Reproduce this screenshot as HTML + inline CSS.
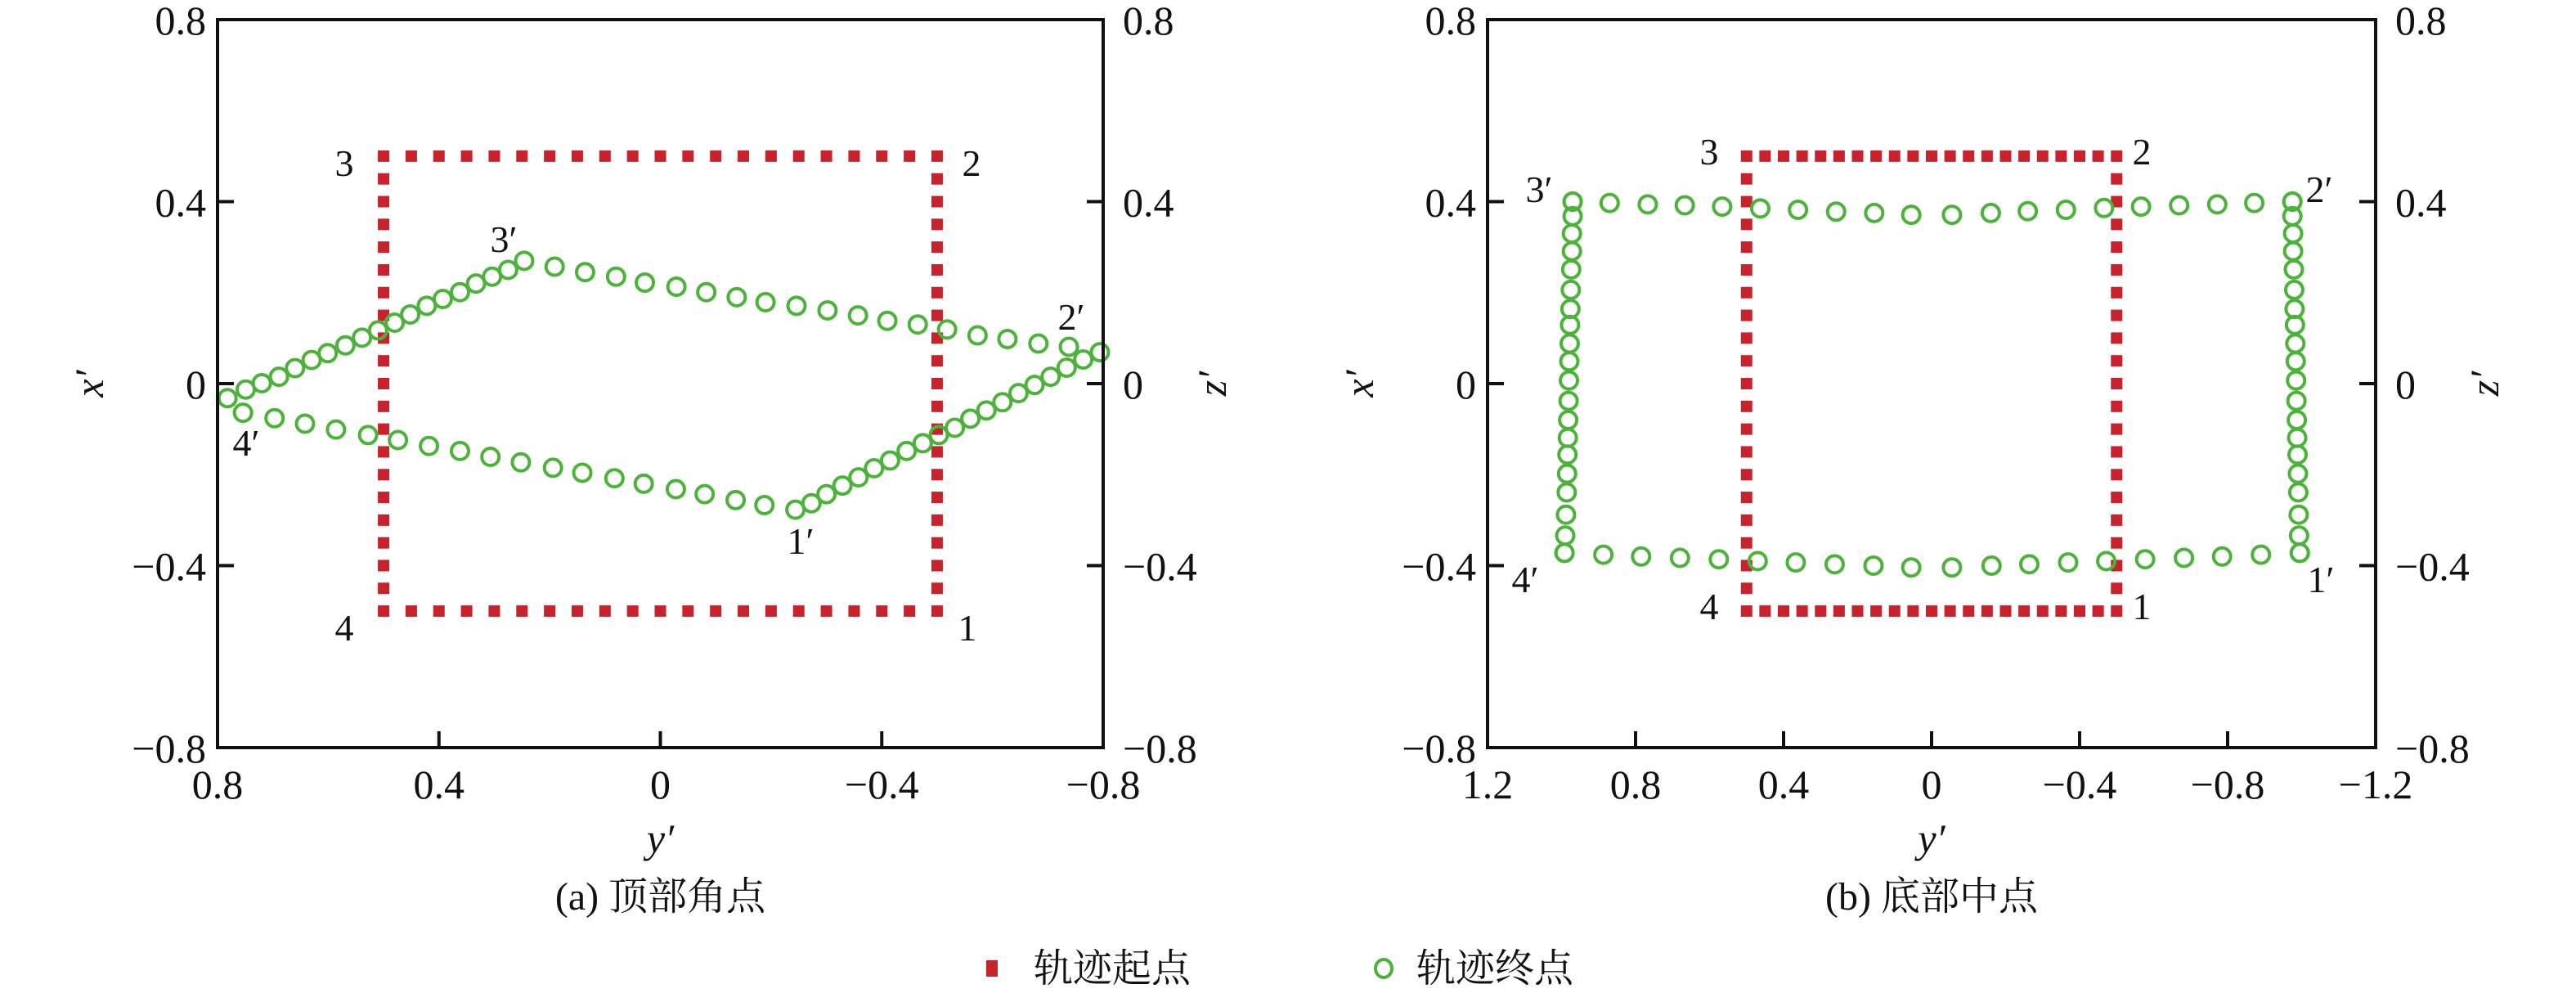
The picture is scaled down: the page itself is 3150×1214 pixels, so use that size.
<!DOCTYPE html>
<html><head><meta charset="utf-8">
<style>
html,body{margin:0;padding:0;background:#fff;}
svg{display:block;}
text{font-family:"Liberation Serif","Noto Serif CJK SC","Noto Sans CJK SC",serif;fill:#111;}
</style></head>
<body>
<svg id="fig" width="3150" height="1214" viewBox="0 0 3150 1214" xmlns="http://www.w3.org/2000/svg">
<g id="plotA"></g>
<g id="plotB"></g>
<g>
  <rect x="1206" y="1174" width="14" height="20" fill="#c8232c"/>
  <text x="1264" y="1200" font-size="48">轨迹起点</text>
  <ellipse cx="1692" cy="1184" rx="10" ry="11" fill="none" stroke="#4cb33a" stroke-width="4"/>
  <text x="1732" y="1200" font-size="48">轨迹终点</text>
</g>
</svg>
<script>
// ---- Data: plot (a) trajectory end points [y', x'] ----
const aYUpper = [0.782,0.749,0.720,0.689,0.660,0.630,0.601,0.569,0.539,0.510,0.480,0.452,0.422,0.393,0.362,0.333,0.304,0.275,0.246,0.191,0.136,0.080,0.028,-0.029,-0.083,-0.138,-0.190,-0.246,-0.302,-0.357,-0.410,-0.465,-0.518,-0.573,-0.627,-0.683,-0.738];
const aXUpper = [-0.032,-0.013,0.001,0.015,0.034,0.052,0.067,0.084,0.101,0.117,0.134,0.152,0.171,0.186,0.201,0.220,0.235,0.250,0.270,0.257,0.245,0.235,0.222,0.213,0.201,0.190,0.179,0.171,0.161,0.150,0.138,0.130,0.119,0.106,0.098,0.088,0.081];
const aYLower = [0.754,0.697,0.642,0.586,0.528,0.474,0.418,0.362,0.307,0.252,0.194,0.141,0.083,0.030,-0.028,-0.080,-0.136,-0.188,-0.244,-0.273,-0.300,-0.329,-0.358,-0.386,-0.415,-0.445,-0.474,-0.503,-0.532,-0.560,-0.589,-0.618,-0.647,-0.676,-0.705,-0.734,-0.764,-0.794];
const aXLower = [-0.064,-0.076,-0.088,-0.101,-0.113,-0.124,-0.137,-0.148,-0.161,-0.173,-0.185,-0.196,-0.208,-0.220,-0.232,-0.243,-0.256,-0.267,-0.277,-0.263,-0.243,-0.224,-0.206,-0.186,-0.169,-0.148,-0.131,-0.113,-0.097,-0.077,-0.059,-0.041,-0.021,-0.003,0.015,0.035,0.053,0.069];
// ---- Data: plot (b) trajectory end points ----
const bYTop = [0.970,0.870,0.767,0.667,0.566,0.463,0.361,0.258,0.155,0.055,-0.055,-0.160,-0.260,-0.363,-0.466,-0.566,-0.669,-0.772,-0.872,-0.975];
const bXTop = [0.400,0.397,0.394,0.392,0.389,0.385,0.382,0.378,0.375,0.371,0.371,0.375,0.379,0.382,0.386,0.389,0.392,0.394,0.397,0.400];
const bYBottom = [0.992,0.887,0.785,0.680,0.575,0.470,0.367,0.262,0.157,0.055,-0.055,-0.162,-0.264,-0.369,-0.472,-0.577,-0.682,-0.785,-0.890,-0.995];
const bXBottom = [-0.372,-0.376,-0.380,-0.383,-0.386,-0.390,-0.393,-0.397,-0.400,-0.404,-0.404,-0.400,-0.397,-0.393,-0.390,-0.386,-0.383,-0.380,-0.376,-0.372];
const bXSide = [0.400,0.368,0.330,0.291,0.251,0.206,0.164,0.129,0.088,0.049,0.007,-0.038,-0.080,-0.119,-0.156,-0.198,-0.239,-0.288,-0.334,-0.372];
const bYLeftSide = [0.970,0.970,0.972,0.972,0.974,0.975,0.976,0.977,0.978,0.979,0.980,0.981,0.982,0.983,0.984,0.985,0.986,0.988,0.990,0.992];
const bYRightSide = [-0.975,-0.975,-0.977,-0.977,-0.979,-0.980,-0.981,-0.982,-0.983,-0.984,-0.985,-0.986,-0.987,-0.988,-0.989,-0.990,-0.991,-0.992,-0.993,-0.995];
// ---- Start square (half side) and step ----
const startHalf = 0.5;
const startStep = 0.05;
// ---- Ticks ----
const aXTicks = [0.8,0.4,0,-0.4,-0.8];
const bXTicks = [1.2,0.8,0.4,0,-0.4,-0.8,-1.2];
const yTicks = [0.8,0.4,0,-0.4,-0.8];

const NS = "http://www.w3.org/2000/svg";
function mk(parent, tag, attrs){const e=document.createElementNS(NS,tag);for(const k in attrs)e.setAttribute(k,attrs[k]);parent.appendChild(e);return e;}
function fmt(v){if(v===0)return "0";return (v<0?"\u2212":"")+Math.abs(v).toString();}

function drawPlot(g, L, R, yMax, xTicks, sets, labels, caption){
  const T=24, B=914;
  const sx = v => L + (yMax - v)/(2*yMax)*(R-L);
  const sy = v => T + (0.8 - v)/1.6*(B-T);
  const sq = [];
  const n = Math.round(2*startHalf/startStep);
  for(let i=0;i<=n;i++){const t=-startHalf+i*startStep; sq.push([t,startHalf],[t,-startHalf]); if(i>0&&i<n){sq.push([startHalf,t],[-startHalf,t]);}}
  sq.forEach(p=>{
    const r=mk(g,'rect',{x:sx(p[0])-7,y:sy(p[1])-7,width:14,height:14,fill:'#c8232c'});
    
    
  });
  sets.forEach(s=>{
    for(let i=0;i<s[0].length;i++){
      const c=mk(g,'circle',{cx:sx(s[0][i]),cy:sy(s[1][i]),r:10.5,fill:'none',stroke:'#4cb33a','stroke-width':4});
      
      
    }
  });
  const f=mk(g,'rect',{x:L,y:T,width:R-L,height:B-T,fill:'none',stroke:'#111','stroke-width':4});
  
  
  yTicks.forEach(v=>{
    const y=sy(v);
    if(v!==0.8&&v!==-0.8){mk(g,'line',{x1:L,x2:L+20,y1:y,y2:y,stroke:'#111','stroke-width':4});mk(g,'line',{x1:R,x2:R-20,y1:y,y2:y,stroke:'#111','stroke-width':4});}
    const tl=mk(g,'text',{x:L-14,y:y+18,'font-size':50,'text-anchor':'end'});tl.textContent=fmt(v);
    
    
    const tr=mk(g,'text',{x:R+24,y:y+18,'font-size':50,'text-anchor':'start'});tr.textContent=fmt(v);
    
    
  });
  xTicks.forEach((v,i)=>{
    const x=sx(v);
    if(i>0&&i<xTicks.length-1)mk(g,'line',{x1:x,x2:x,y1:B,y2:B-20,stroke:'#111','stroke-width':4});
    const t=mk(g,'text',{x:x,y:976,'font-size':50,'text-anchor':'middle'});t.textContent=fmt(v);
    
    
  });
  labels.forEach(l=>{
    const t=mk(g,'text',{x:l[1],y:l[2]+17,'font-size':46,'text-anchor':'middle'});t.textContent=l[0];
    
    
  });
  const mid=(L+R)/2;
  const xl=mk(g,'text',{x:mid,y:1042,'font-size':50,'font-style':'italic','text-anchor':'middle'});xl.textContent="y\u2032";
  
  
  const yl=mk(g,'text',{x:0,y:0,'font-size':50,'font-style':'italic','text-anchor':'middle',transform:`translate(${L-140},469) rotate(-90)`});yl.textContent="x\u2032";
  
  
  const zl=mk(g,'text',{x:0,y:0,'font-size':50,'font-style':'italic','text-anchor':'middle',transform:`translate(${R+150},469) rotate(-90)`});zl.textContent="z\u2032";
  
  
  const cp=mk(g,'text',{x:mid,y:1112,'font-size':48,'text-anchor':'middle'});cp.textContent=caption;
  
  
}
drawPlot(document.getElementById('plotA'),266,1349,0.8,aXTicks,
  [[aYUpper,aXUpper],[aYLower,aXLower]],
  [["3",421,198],["2",1188,198],["4",421,766],["1",1183,766],["3\u2032",616,291],["2\u2032",1310,386],["4\u2032",301,540],["1\u2032",979,660]],
  "(a) 顶部角点");
drawPlot(document.getElementById('plotB'),1819,2905,1.2,bXTicks,
  [[bYTop,bXTop],[bYBottom,bXBottom],[bYLeftSide,bXSide],[bYRightSide,bXSide]],
  [["3",2090,184],["2",2619,184],["4",2090,740],["1",2619,740],["3\u2032",1882,230],["2\u2032",2836,230],["4\u2032",1865,707],["1\u2032",2838,707]],
  "(b) 底部中点");
</script>
</body></html>
